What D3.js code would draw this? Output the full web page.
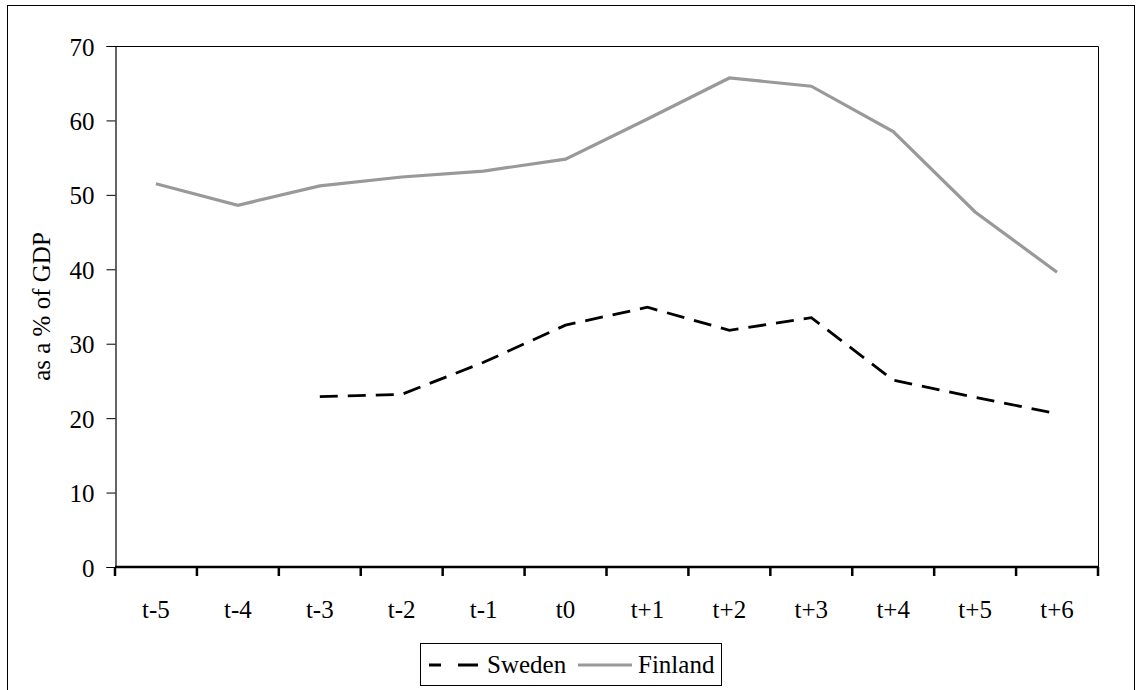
<!DOCTYPE html>
<html>
<head>
<meta charset="utf-8">
<script src="https://cdn.jsdelivr.net/npm/d3@7"></script>
<style>
  html, body { margin: 0; padding: 0; background: #fff; }
  svg { display: block; }
</style>
</head>
<body>
<svg id="chart" width="1137" height="690"></svg>
<script>
// Periods around the crisis year t0
const periods = ["t-5", "t-4", "t-3", "t-2", "t-1", "t0", "t+1", "t+2", "t+3", "t+4", "t+5", "t+6"];
// Series values, as a % of GDP
const sweden  = [null, null, 22.9, 23.2, 27.5, 32.5, 34.9, 31.8, 33.5, 25.1, 22.8, 20.6];
const finland = [51.5, 48.6, 51.2, 52.4, 53.2, 54.8, 60.2, 65.7, 64.6, 58.5, 47.7, 39.6];
const yTicks  = [0, 10, 20, 30, 40, 50, 60, 70];

const FONT = "'Liberation Serif', 'DejaVu Serif', serif";
const FS = 25;

const svg = d3.select("#chart");
const plot = { left: 115, top: 46, right: 1098, bottom: 567 };

// Outer frame
svg.append("rect")
  .attr("x", 7.5).attr("y", 5.5)
  .attr("width", 1127).attr("height", 720)
  .attr("fill", "none").attr("stroke", "#000").attr("stroke-width", 1);

const x = d3.scaleBand().domain(periods).range([plot.left, plot.right]).padding(0);
const y = d3.scaleLinear().domain([0, 70]).range([plot.bottom, plot.top]);

// Plot area border (top and right)
svg.append("path")
  .attr("d", `M${plot.left},${plot.top + 0.5}H${plot.right + 0.5}V${plot.bottom}`)
  .attr("fill", "none").attr("stroke", "#000").attr("stroke-width", 1);

// Y axis
const yAxis = svg.append("g")
  .attr("transform", `translate(${plot.left + 0.5},0)`)
  .call(d3.axisLeft(y).tickValues(yTicks).tickSize(9).tickPadding(12).tickFormat(d3.format("d")));
yAxis.attr("font-family", FONT).attr("font-size", FS);
yAxis.select(".domain").attr("stroke", "#000").attr("stroke-width", 1.2);
yAxis.selectAll(".tick line").attr("stroke", "#000").attr("stroke-width", 1);
yAxis.selectAll("text").attr("fill", "#000").attr("dy", "0.36em");

// X axis: ticks sit between categories
const xAxisG = svg.append("g")
  .attr("transform", `translate(0,${plot.bottom})`)
  .attr("font-family", FONT).attr("font-size", FS);
xAxisG.append("line")
  .attr("x1", plot.left).attr("x2", plot.right + 1)
  .attr("stroke", "#000").attr("stroke-width", 2.5);
const boundaries = periods.map(p => x(p)).concat([x(periods[periods.length - 1]) + x.bandwidth()]);
xAxisG.selectAll("line.tk").data(boundaries).join("line")
  .attr("class", "tk")
  .attr("x1", d => d).attr("x2", d => d)
  .attr("y1", 0).attr("y2", 9)
  .attr("stroke", "#000").attr("stroke-width", 2.5);
xAxisG.selectAll("text").data(periods).join("text")
  .attr("x", d => x(d) + x.bandwidth() / 2)
  .attr("y", 51)
  .attr("text-anchor", "middle")
  .text(d => d);

// Y axis title
svg.append("text")
  .attr("transform", `translate(50,${(plot.top + plot.bottom) / 2}) rotate(-90)`)
  .attr("text-anchor", "middle")
  .attr("font-family", FONT).attr("font-size", FS)
  .text("as a % of GDP");

const line = d3.line()
  .defined(d => d.v != null)
  .x(d => x(d.p) + x.bandwidth() / 2)
  .y(d => y(d.v));

const toPts = arr => periods.map((p, i) => ({ p, v: arr[i] }));

// Finland: solid grey
svg.append("path")
  .datum(toPts(finland))
  .attr("d", line)
  .attr("fill", "none")
  .attr("stroke", "#999999")
  .attr("stroke-width", 3.2)
  .attr("stroke-linejoin", "miter");

// Sweden: black dashed
svg.append("path")
  .datum(toPts(sweden))
  .attr("d", line)
  .attr("fill", "none")
  .attr("stroke", "#000")
  .attr("stroke-width", 2.8)
  .attr("stroke-dasharray", "18,10");

// Legend
const lg = svg.append("g").attr("font-family", FONT).attr("font-size", FS);
lg.append("rect")
  .attr("x", 420.5).attr("y", 643.5)
  .attr("width", 301).attr("height", 42)
  .attr("fill", "#fff").attr("stroke", "#000").attr("stroke-width", 1);
lg.append("line")
  .attr("x1", 429).attr("x2", 478).attr("y1", 665).attr("y2", 665)
  .attr("stroke", "#000").attr("stroke-width", 2.8)
  .attr("stroke-dasharray", "12,17,20");
lg.append("text").attr("x", 487).attr("y", 673).text("Sweden");
lg.append("line")
  .attr("x1", 578).attr("x2", 632).attr("y1", 665).attr("y2", 665)
  .attr("stroke", "#999999").attr("stroke-width", 3.2);
lg.append("text").attr("x", 638).attr("y", 673).text("Finland");
</script>
</body>
</html>
